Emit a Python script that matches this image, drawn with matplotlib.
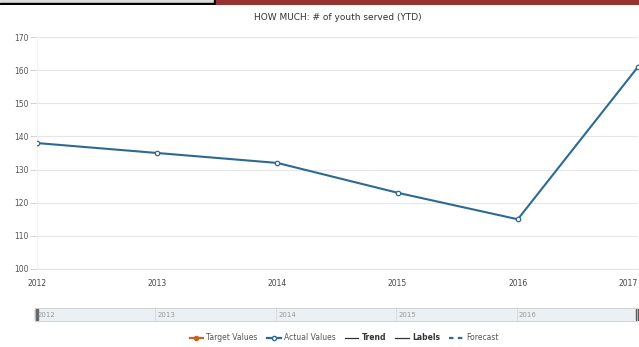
import matplotlib.pyplot as plt
from matplotlib.lines import Line2D
from matplotlib.patches import Rectangle
from matplotlib import font_manager

years = [2012, 2013, 2014, 2015, 2016, 2017]
actual = [138, 135, 132, 123, 115, 161]
y_ticks = [100, 110, 120, 130, 140, 150, 160, 170]
title = 'HOW MUCH: # of youth served (YTD)'
legend_labels = ['Target Values', 'Actual Values', 'Trend', 'Labels', 'Forecast']

names = {f.name for f in font_manager.fontManager.ttflist}
fam = 'Liberation Sans Narrow' if 'Liberation Sans Narrow' in names else 'DejaVu Sans'
plt.rcParams['font.family'] = [fam, 'DejaVu Sans']

blue = '#2d6a93'
grid_c = '#e6e6e6'
txt_c = '#555555'

fig = plt.figure(figsize=(6.39, 3.47), dpi=100)

# header strip at the very top
top = fig.add_axes([0, 1 - 5 / 347, 1, 5 / 347])
top.set_xlim(0, 639)
top.set_ylim(0, 5)
top.axis('off')
top.add_patch(Rectangle((0, 1.5), 214, 3.5, color='#dcdcdc'))
top.add_patch(Rectangle((0, 0), 216, 1.6, color='black'))
top.add_patch(Rectangle((214, 0), 2, 5, color='black'))
top.add_patch(Rectangle((216, 0.3), 423, 4.7, color='#963330'))

ax = fig.add_axes([37 / 639, 1 - 269 / 347, 601 / 639, 232 / 347])
ax.plot(years, actual, color=blue, lw=1.5, marker='o', ms=3.2,
        mfc='white', mec=blue, mew=0.9, zorder=3)
ax.set_xlim(years[0], years[-1])
ax.set_ylim(100, 170)
ax.set_yticks(y_ticks)
ax.set_xticks(years)
ax.grid(axis='y', color=grid_c, lw=0.8)
for s in ['top', 'right']:
    ax.spines[s].set_visible(False)
ax.spines['left'].set_color('#f2f2f2')
ax.spines['bottom'].set_color(grid_c)
ax.tick_params(axis='y', labelsize=5.5, colors='#cccccc', labelcolor=txt_c, length=5, width=0.6, pad=1)
ax.tick_params(axis='x', labelsize=5.5, labelcolor='#444444', length=0, pad=7)
ax.get_xticklabels()[-1].set_ha('right')
ax.set_title(title, fontsize=6.5, color='#333333', pad=12)

# navigator bar
nav = fig.add_axes([35 / 639, 1 - 321 / 347, 602 / 639, 13 / 347])
nav.set_facecolor('#eaf0f4')
nav.set_xlim(years[0], years[-1])
nav.set_ylim(0, 1)
nav.set_xticks([])
nav.set_yticks([])
for s in nav.spines.values():
    s.set_color('#cccccc')
    s.set_linewidth(0.6)
for yr in years[1:-1]:
    nav.axvline(yr, color='#d0d6dc', lw=0.6)
for yr in years[:-1]:
    nav.text(yr + 0.02, 0.45, str(yr), fontsize=5, color='#999999', va='center')
nav.add_patch(Rectangle((years[0], 0.05), 0.025, 0.9, color='#666666', clip_on=False))
nav.add_patch(Rectangle((years[-1] - 0.01, 0.05), 0.02, 0.9, color='#555555', clip_on=False))

handles = [
    Line2D([], [], color='#c8651b', lw=1.6, marker='o', ms=3, mfc='#c8651b'),
    Line2D([], [], color=blue, lw=1.6, marker='o', ms=3, mfc='white', mec=blue),
    Line2D([], [], color='#333333', lw=0.9),
    Line2D([], [], color='#333333', lw=0.9),
    Line2D([], [], color=blue, lw=1.6, ls=(0, (2, 2))),
]
leg = fig.legend(handles, legend_labels, ncol=5, loc='center', bbox_to_anchor=(344 / 639, 1 - 338 / 347),
                 frameon=False, fontsize=5.5, handlelength=1.8, handletextpad=0.4, columnspacing=1.2)
for i, t in enumerate(leg.get_texts()):
    t.set_color(txt_c)
    if legend_labels[i] in ('Trend', 'Labels'):
        t.set_fontweight('bold')
        t.set_color('#333333')

fig.savefig('out.png', dpi=100)
